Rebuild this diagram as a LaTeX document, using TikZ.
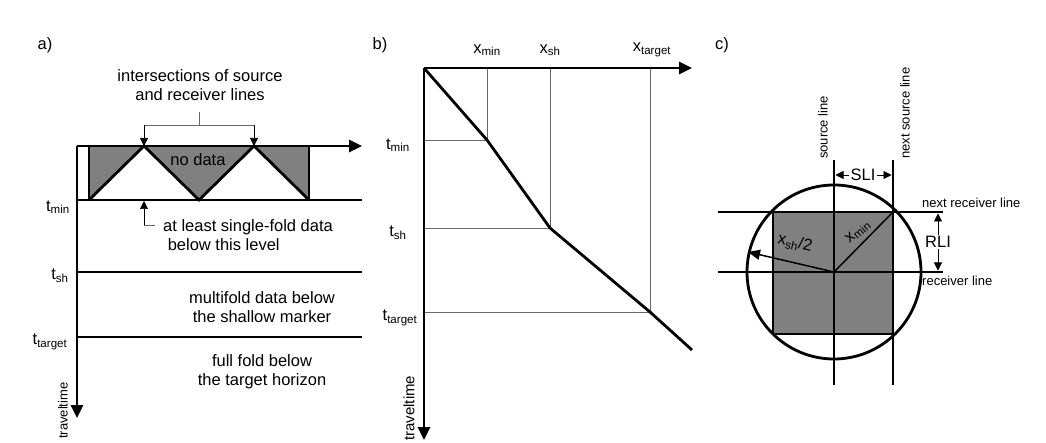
\documentclass[tikz,border=0pt]{standalone}
\usepackage{fontspec}
\setmainfont{Liberation Sans}
\usetikzlibrary{arrows.meta}
\begin{document}
\begin{tikzpicture}[x=1pt,y=-1pt,
  thk/.style={line width=2.8pt},
  thn/.style={line width=0.6pt,black!60},
  ar/.style={-{Triangle[length=13pt,width=12pt]}},
  sar/.style={-{Triangle[length=8pt,width=8pt]}},
  lbl/.style={font=\fontsize{16.5}{19}\selectfont,align=center,inner sep=1pt},
  sm/.style={font=\fontsize{13}{15}\selectfont,inner sep=1pt},
  fill0/.style={fill=black!50}]
\useasboundingbox (0,0) rectangle (1046,443);
% ---- a)
\node[lbl] (la) at (45,45) {a)};
\fill[fill0] (89,146)--(89,200)--(144,146)--(199,200)--(254,146)--(309,200)--(309,146)--cycle;
\draw[thk] (89,146)--(89,200) (309,146)--(309,200);
\draw[thk] (89,200)--(144,146)--(199,200)--(254,146)--(309,200);
\coordinate (ao) at (77,146);
\coordinate (ax) at (362,146);
\coordinate (ay) at (77,418);
\draw[thk,ar] (ao)--(ax);
\draw[thk,ar] (ao)--(ay);
\draw[thk] (77,200)--(362,200) (77,272)--(362,272) (77,337)--(362,337);
\node[lbl] (tmin) at (58,207) {t$_{\rm min}$};
\node[lbl] (tsh) at (60,276) {t$_{\rm sh}$};
\node[lbl] (ttg) at (50,342) {t$_{\rm target}$};
\node[sm,rotate=90,anchor=west] (tt) at (63,440) {traveltime};
\node[lbl] (int) at (200,85) {intersections of source\\and receiver lines};
\coordinate (b1) at (144,146); \coordinate (b2) at (254,146);
\draw[thn] (199,112)--(199,125) (144,125)--(254,125);
\draw[thn,sar,black] (144,125)--(b1);
\draw[thn,sar,black] (254,125)--(b2);
\node[lbl] (nd) at (198,160) {no data};
\coordinate (b3) at (144,201);
\draw[thn,sar,black] (144,225)--(b3);
\draw[thn] (144,225)--(155,225);
\node[lbl,anchor=west,align=left] (sf) at (162,235) {at least single-fold data\\\ below this level};
\node[lbl] (mf) at (262,307) {multifold data below\\the shallow marker};
\node[lbl] (ff) at (262,372) {full fold below\\the target horizon};
% ---- b)
\node[lbl] (lb) at (380,45) {b)};
\coordinate (bo) at (424,68);
\coordinate (p1) at (487,140); \coordinate (p2) at (550,228); \coordinate (p3) at (650,312); \coordinate (p4) at (692,350);
\draw[thn] (487,68)--(p1)--(424,140) (550,68)--(p2)--(424,228) (650,68)--(p3)--(424,312);
\coordinate (bx) at (692,68); \coordinate (by) at (424,440);
\draw[thk,ar] (bo)--(bx);
\draw[thk,ar] (bo)--(by);
\draw[thk] (bo)--(p1)--(p2)--(p3)--(p4);
\node[lbl] (xmin) at (487,50) {x$_{\rm min}$};
\node[lbl] (xsh) at (550,50) {x$_{\rm sh}$};
\node[lbl] (xtg) at (652,50) {x$_{\rm target}$};
\node[lbl] (btmin) at (398,145) {t$_{\rm min}$};
\node[lbl] (btsh) at (398,233) {t$_{\rm sh}$};
\node[lbl] (bttg) at (400,318) {t$_{\rm target}$};
\node[rotate=90,anchor=west,font=\fontsize{15}{17}\selectfont,inner sep=1pt] (btt) at (409,442) {traveltime};
% ---- c)
\node[lbl] (lc) at (722,45) {c)};
\coordinate (c) at (834,272);
\fill[fill0] (773,212) rectangle (893,334);
\draw[thk] (c) circle (87);
\draw[thk] (773,212)--(773,334)--(893,334);
\draw[thk] (834,160)--(834,385) (893,160)--(893,385);
\draw[thk] (718,272)--(943,272) (718,212)--(943,212);
\coordinate (xm) at (893,212);
\draw[line width=1.5pt] (c)--(xm);
\coordinate (xs) at (748,252);
\draw[line width=1.5pt,-{Triangle[length=12pt,width=10pt]}] (c)--(xs);
\node[lbl,rotate=40] (lxm) at (858,232) {x$_{\rm min}$};
\node[lbl,rotate=-12] (lxs) at (795,243) {x$_{\rm sh}$/2};
\coordinate (s1) at (835.5,175); \coordinate (s2) at (891.5,175);
\node[lbl,fill=white] (sli) at (863,175) {SLI};
\draw[thn,black,sar] (sli.west)--(s1);
\draw[thn,black,sar] (sli.east)--(s2);
\coordinate (r1) at (938,213.5); \coordinate (r2) at (938,270.5);
\node[lbl,fill=white] (rli) at (938,242) {RLI};
\draw[thn,black,sar] (rli.north)--(r1);
\draw[thn,black,sar] (rli.south)--(r2);
\node[sm,rotate=90,anchor=west] (sl) at (823,160) {source line};
\node[sm,rotate=90,anchor=west] (nsl) at (905,160) {next source line};
\node[sm,anchor=west] (nrl) at (921,203) {next receiver line};
\node[sm,anchor=west] (rl) at (921,281) {receiver line};
\end{tikzpicture}
\end{document}
